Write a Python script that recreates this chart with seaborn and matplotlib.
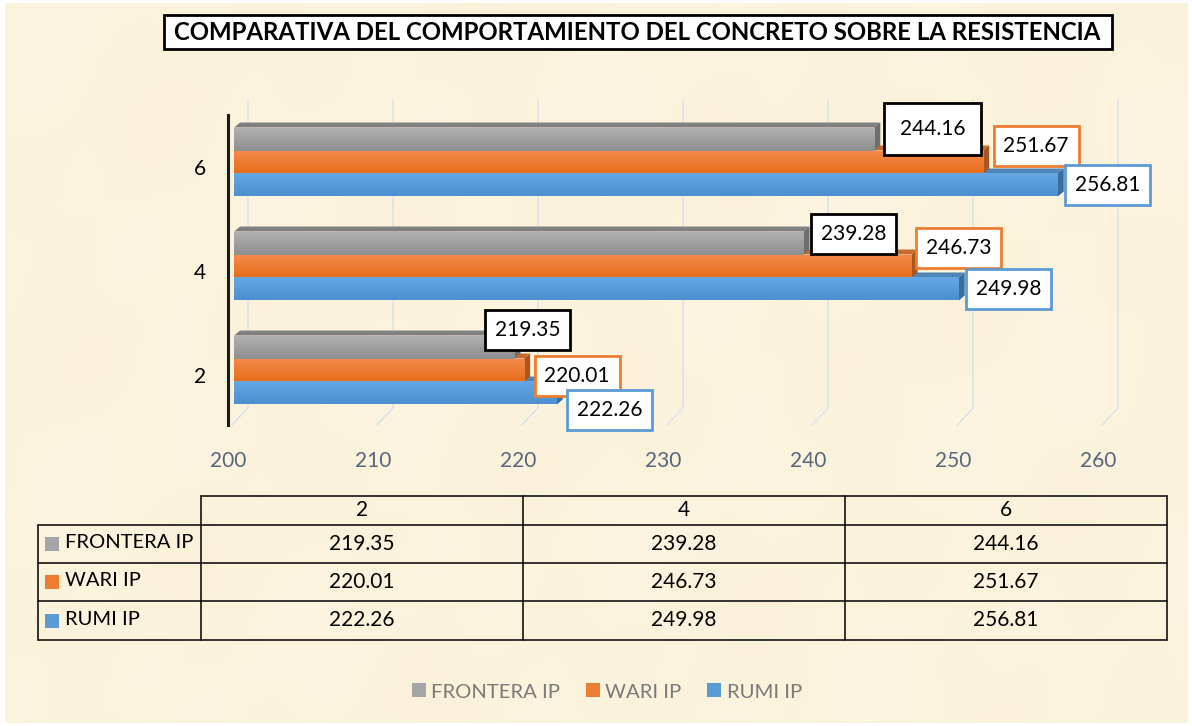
import numpy as np
import pandas as pd
import matplotlib
matplotlib.use("Agg")
import matplotlib.pyplot as plt
import seaborn as sns
from matplotlib.colors import LinearSegmentedColormap
from matplotlib.patches import Patch, Polygon, Rectangle
from matplotlib.transforms import ScaledTranslation

titulo = "COMPARATIVA DEL COMPORTAMIENTO DEL CONCRETO SOBRE LA RESISTENCIA"
edades = ["6", "4", "2"]
edades_tabla = ["2", "4", "6"]
series = ["FRONTERA IP", "WARI IP", "RUMI IP"]
frontera = [244.16, 239.28, 219.35]
wari = [251.67, 246.73, 220.01]
rumi = [256.81, 249.98, 222.26]
ticks_x = [200, 210, 220, 230, 240, 250, 260]

colores = ["#A5A5A5", "#ED7D31", "#5B9BD5"]
grad_claro = ["#B0B0B0", "#F58B4C", "#65A8E4"]
grad_oscuro = ["#8E8E8E", "#E86D1B", "#4A90D2"]
lado = ["#6E6E6E", "#A9561F", "#3A6E9E"]
techo = ["#808080", "#C76A2C", "#4F86BA"]
borde_etiqueta = ["black", "#ED7D31", "#5B9BD5"]

# desplazamiento de cada etiqueta respecto al final de su barra (pixeles)
offset_etiquetas = [
    [(58, 10), (50, 9), (13, 17)],
    [(53, 16), (47, 18), (53, -6)],
    [(50, 0), (50, 0), (53, -17)],
]
pad_etiquetas = [[0.76, 0.47, 0.47], [0.47, 0.47, 0.47], [0.47, 0.47, 0.47]]

df = pd.DataFrame({
    "edad": edades * 3,
    "serie": np.repeat(series, 3),
    "valor": frontera + wari + rumi,
})

sns.set_theme(style="white")
plt.rcParams["font.family"] = ["Lato", "DejaVu Sans"]

W, H = 1192, 726
fig = plt.figure(figsize=(W / 100, H / 100), dpi=100, facecolor="white")

# fondo tipo pergamino
fondo = fig.add_axes([0, 0, 1, 1], zorder=0)
xx, yy = np.meshgrid(np.arange(W), np.arange(H))
manchas = (np.sin(xx / 47 + yy / 83) + np.sin(xx / 29 - yy / 61 + 1.3)
           + np.sin(xx / 113 + yy / 37 + 0.4) + np.sin(xx / 17 + yy / 23 + 2.1) * 0.5)
base = np.array([252, 243, 221]) / 255
img = np.clip(base[None, None, :] + manchas[..., None] * np.array([0.001, 0.002, 0.004]), 0, 1)
fondo.imshow(img, extent=(5, W - 4, H - 3, 3), aspect="auto")
fondo.set_xlim(0, W)
fondo.set_ylim(H, 0)
fondo.axis("off")

# grafico principal, el eje x va de 234 a 1104 px
top_px, bottom_px = 110, 422
ax = fig.add_axes([234 / W, 1 - bottom_px / H, 870 / W, (bottom_px - top_px) / H], zorder=1)
ax.patch.set_alpha(0)
sns.barplot(data=df, x="valor", y="edad", hue="serie", order=edades, hue_order=series,
            palette=colores, width=0.663, gap=0, saturation=1, legend=False, ax=ax, zorder=3,
            linewidth=0)
ax.set_xlim(200, 260)
ax.set_ylim(2.5, -0.5)
ax.set_xticks(ticks_x)
ax.set_xlabel("")
ax.set_ylabel("")
ax.tick_params(axis="x", length=0, pad=21, labelsize=15, labelcolor="#56657F")
ax.tick_params(axis="y", length=0, pad=15.5, labelsize=15, labelcolor="black")
for s in ["top", "right", "bottom"]:
    ax.spines[s].set_visible(False)
ax.spines["left"].set_position(("outward", 4.5))
ax.spines["left"].set_color("#1A1A1A")
ax.spines["left"].set_linewidth(2.2)
ax.spines["left"].set_bounds(2.53, -0.45)
for lab in ax.get_xticklabels():
    lab.set_transform(lab.get_transform() + ScaledTranslation(-6 / 100, 0, fig.dpi_scale_trans))
for lab in ax.get_yticklabels():
    lab.set_transform(lab.get_transform() + ScaledTranslation(0, -5 / 100, fig.dpi_scale_trans))

# capa superior en pixeles para caja del titulo, tabla y leyenda
capa = fig.add_axes([0, 0, 1, 1], zorder=2)
capa.set_xlim(0, W)
capa.set_ylim(H, 0)
capa.axis("off")
capa.patch.set_alpha(0)

# paredes del efecto 3D: rejilla del fondo y del piso, por debajo de las barras
fig.canvas.draw()
for v in ticks_x:
    x_front = ax.transData.transform((v, 0))[0]
    fondo.plot([x_front - 2, x_front + 14, x_front + 14], [425, 408, 100],
               color="#DFE4EC", lw=1.3, zorder=2)
fondo.set_xlim(0, W)
fondo.set_ylim(H, 0)

# profundidad de las barras y degradados
dx, dy = 6, 5
for i, cont in enumerate(ax.containers):
    cmap = LinearSegmentedColormap.from_list("g", [grad_claro[i], grad_oscuro[i]])
    for j, bar in enumerate(cont):
        y0, alto = bar.get_y(), bar.get_height()
        v = cont.datavalues[j]
        (xa, ya) = ax.transData.transform((200, y0))
        (xb, yb) = ax.transData.transform((v, y0 + alto))
        # ya es el borde de arriba, yb el de abajo (en pixeles de pantalla)
        ax.add_patch(Polygon([(xa, ya), (xb, ya), (xb + dx, ya + dy), (xa + dx, ya + dy)],
                             closed=True, fc=techo[i], ec="none", transform=None,
                             clip_on=False, zorder=2))
        ax.add_patch(Polygon([(xb, ya), (xb + dx, ya + dy), (xb + dx, yb + dy), (xb, yb)],
                             closed=True, fc=lado[i], ec="none", transform=None,
                             clip_on=False, zorder=2.1))
        grad = ax.imshow(np.linspace(0, 1, 32)[:, None], cmap=cmap, aspect="auto",
                         extent=(200, v, y0 + alto, y0), zorder=3.1)
        grad.set_clip_path(bar)
        # etiqueta de datos
        ox, oy = offset_etiquetas[i][j]
        ax.annotate(f"{v:.2f}", xy=(v, y0 + alto / 2), xytext=(ox, oy), textcoords="offset pixels",
                    ha="center", va="center", fontsize=15, color="black", zorder=6,
                    annotation_clip=False,
                    bbox=dict(boxstyle=f"square,pad={pad_etiquetas[i][j]}", fc="white",
                              ec=borde_etiqueta[i], lw=2))
ax.set_xlim(200, 260)
ax.set_ylim(2.5, -0.5)

# titulo
capa.add_patch(Rectangle((164, 15), 948, 34, fc="white", ec="black", lw=2))
capa.text(637, 32, titulo, ha="center", va="center", fontsize=17.3, fontweight="bold", color="black")

# tabla de datos
col_x = [38, 201, 523, 845, 1167]
fila_y = [496, 525, 563, 601, 640]
tabla = [frontera[::-1], wari[::-1], rumi[::-1]]
lw_t = 1.1
capa.plot([201, 1167], [496, 496], color="black", lw=lw_t)
for y in fila_y[1:]:
    capa.plot([38, 1167], [y, y], color="black", lw=lw_t)
capa.plot([38, 38], [525, 640], color="black", lw=lw_t)
for x in col_x[1:]:
    capa.plot([x, x], [496, 640], color="black", lw=lw_t)
for c, e in enumerate(edades_tabla):
    capa.text((col_x[c + 1] + col_x[c + 2]) / 2, 510.5, e, ha="center", va="center", fontsize=15, color="black")
for f, nombre in enumerate(series):
    yc = (fila_y[f + 1] + fila_y[f + 2]) / 2
    capa.add_patch(Rectangle((45, yc - 7), 14, 14, fc=colores[f], ec="none"))
    capa.text(65, yc - 1, nombre, ha="left", va="center", fontsize=14.5, color="black")
    for c in range(3):
        capa.text((col_x[c + 1] + col_x[c + 2]) / 2, yc, f"{tabla[f][c]:.2f}",
                  ha="center", va="center", fontsize=15, color="black")

# leyenda inferior
handles = [Patch(fc=col, ec="none", label=s) for col, s in zip(colores, series)]
capa.legend(handles=handles, loc="center", bbox_to_anchor=(607, 692), bbox_transform=capa.transData,
            ncols=3, frameon=False, fontsize=14.6, labelcolor="#7A7A7A", handlelength=0.69,
            handleheight=0.69, handletextpad=0.25, columnspacing=1.28)

fig.savefig("out.png", dpi=100)
